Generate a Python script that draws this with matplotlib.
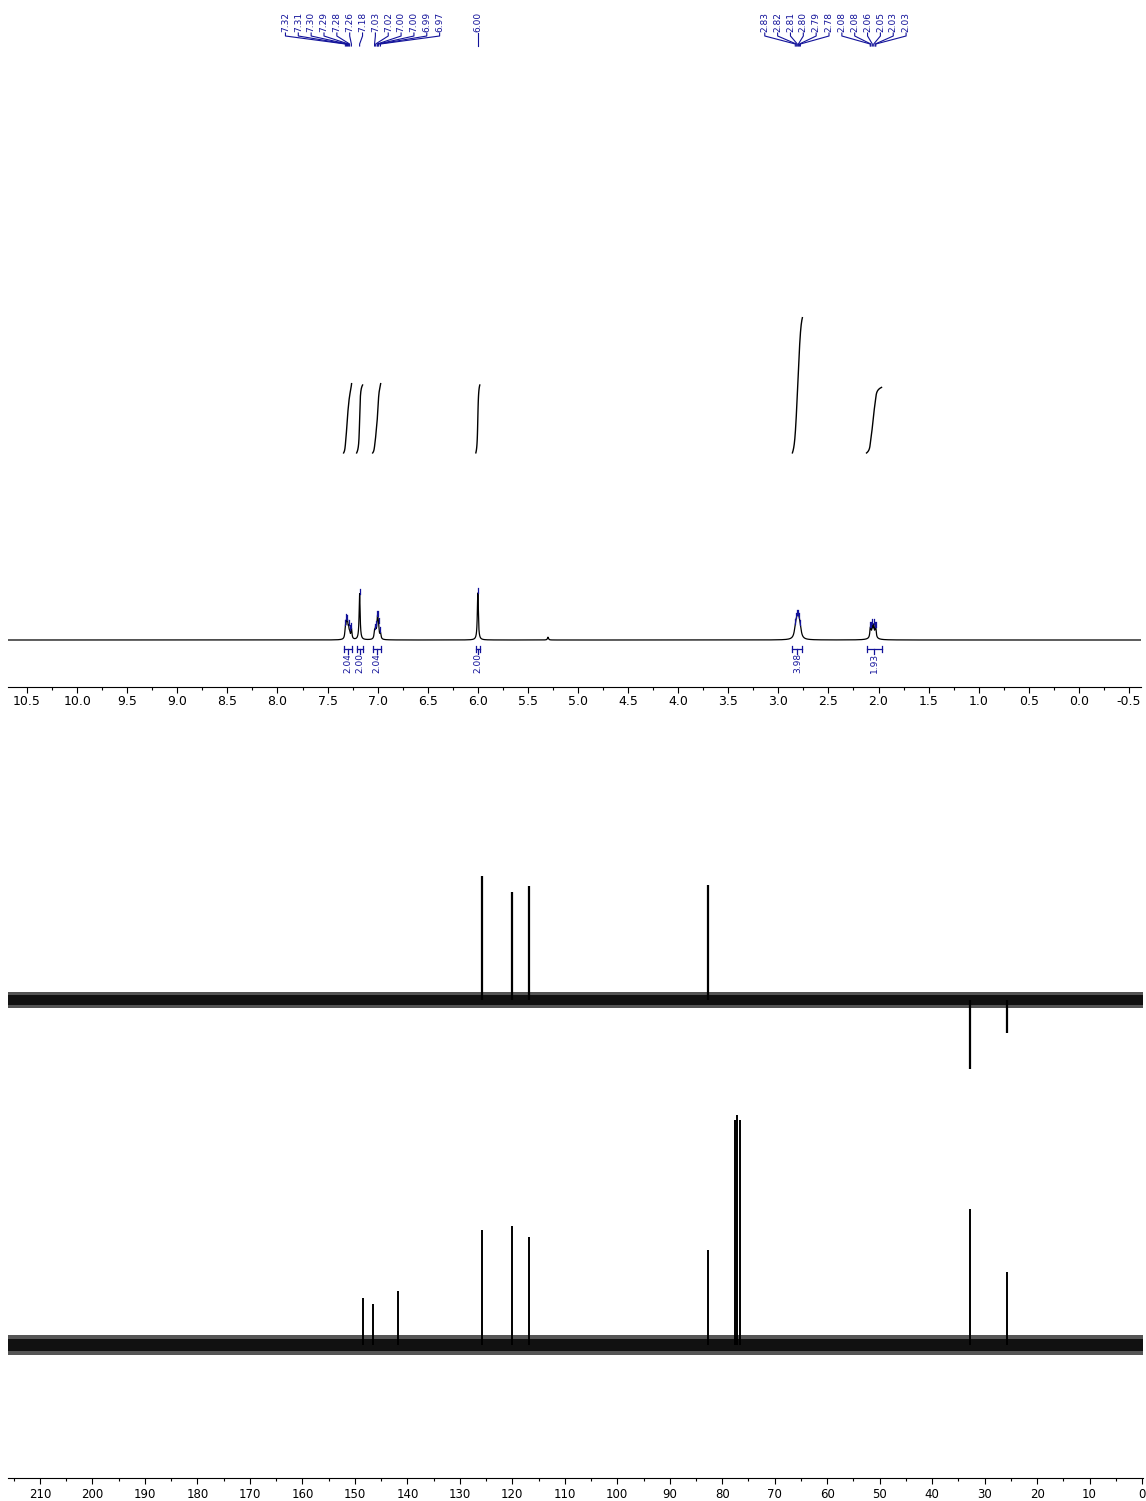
import numpy as np
import matplotlib.pyplot as plt
from matplotlib.ticker import MultipleLocator, FormatStrFormatter

plt.rcParams['font.family'] = ['DejaVu Sans']
plt.rcParams['axes.unicode_minus'] = False

BLUE = '#12129a'

# ---- 1H data: picked lines (ppm), relative height (6.00 singlet = 1), half width (ppm)
h_ppm = [7.322, 7.311, 7.301, 7.290, 7.280, 7.262, 7.180,
         7.031, 7.020, 7.004, 6.998, 6.990, 6.972, 6.000,
         2.831, 2.821, 2.811, 2.800, 2.790, 2.780,
         2.083, 2.077, 2.062, 2.048, 2.033, 2.027]
h_int = [0.22, 0.30, 0.28, 0.18, 0.10, 0.22, 0.98,
         0.15, 0.20, 0.30, 0.28, 0.18, 0.12, 1.00,
         0.12, 0.17, 0.20, 0.22, 0.17, 0.10,
         0.15, 0.12, 0.20, 0.20, 0.12, 0.15]
h_hw = [0.006] * 7 + [0.006] * 6 + [0.006] + [0.013] * 6 + [0.005] * 6
label_groups = [(0, 13), (13, 14), (14, 26)]

# unlabeled 1H signals (solvent, broad base of the 2.05 multiplet)
x_ppm = [5.30, 2.055]
x_int = [0.06, 0.10]
x_hw = [0.006, 0.03]

# integrals
int_from = [7.34, 7.21, 7.05, 6.02, 2.86, 2.12]
int_to = [7.26, 7.15, 6.97, 5.98, 2.76, 1.97]
int_val = [2.04, 2.00, 2.04, 2.00, 3.98, 1.93]

# ---- 13C DEPT-135 (ppm, relative height, largest = 1)
dept_ppm = [125.8, 120.1, 116.9, 82.7, 32.8, 25.7]
dept_int = [1.00, 0.87, 0.92, 0.93, -0.56, -0.27]

# ---- 13C (ppm, relative height, CDCl3 centre line = 1)
c_ppm = [148.5, 146.6, 141.7, 125.8, 120.1, 116.9, 82.7,
         77.6, 77.15, 76.7, 32.8, 25.7]
c_int = [0.204, 0.178, 0.235, 0.50, 0.517, 0.47, 0.413,
         0.978, 1.00, 0.978, 0.59, 0.317]

# baseline noise level (core, outer) in each trace's units
dept_noise = [0.040, 0.065]
c_noise = [0.026, 0.043]

# ---- layout (pixel boxes)
W, H = 1146, 1501
fig = plt.figure(figsize=(W / 100, H / 100), dpi=100)


def box(left, top, right, bottom):
    return [left / W, 1 - bottom / H, (right - left) / W, (bottom - top) / H]


ax1 = fig.add_axes(box(8, 0, 1141, 687))
ax2 = fig.add_axes(box(8, 850, 1143, 1090))
ax3 = fig.add_axes(box(8, 1100, 1143, 1478))

BASE1, UNIT1 = 640, 47.0


def yv(px):
    return (BASE1 - px) / UNIT1


# ---- 1H spectrum
x = np.linspace(10.69, -0.62, 30000)
spec = np.zeros_like(x)
for p, h, w in zip(h_ppm + x_ppm, h_int + x_int, h_hw + x_hw):
    spec += h / (1 + ((x - p) / w) ** 2)

ax1.plot(x, spec, color='black', lw=0.9)
ax1.set_xlim(10.69, -0.62)
ax1.set_ylim(yv(687), yv(0))

# integrals
per_h = 34 / UNIT1
for a, b, v in zip(int_from, int_to, int_val):
    m = (x <= a) & (x >= b)
    cum = np.cumsum(spec[m])
    cum = cum / cum[-1]
    ax1.plot(x[m], yv(453) + v * per_h * cum, color='black', lw=1.0)
    ax1.plot([a, b], [yv(649), yv(649)], color=BLUE, lw=0.9)
    for e in (a, b):
        ax1.plot([e, e], [yv(646), yv(652)], color=BLUE, lw=0.9)
    c = (a + b) / 2
    ax1.plot([c, c], [yv(649), yv(654)], color=BLUE, lw=0.9)
    ax1.text(c, yv(653), f'{v:.2f}', rotation=90, ha='center', va='top',
             fontsize=6.5, color=BLUE)

# peak labels
spacing = 12.85 / 100.2
for s, e in label_groups:
    peaks = h_ppm[s:e]
    centre = np.mean(peaks)
    n = len(peaks)
    for i, p in enumerate(peaks):
        lx = centre + (n - 1) / 2 * spacing - i * spacing
        ax1.text(lx, yv(32.5), f'{p:.2f}', rotation=90, ha='center',
                 va='bottom', fontsize=6.5, color=BLUE)
        ax1.plot([lx, lx, p, p], [yv(33), yv(36), yv(44), yv(46)],
                 color=BLUE, lw=0.8, clip_on=False)
        top = np.interp(p, x[::-1], spec[::-1])
        ax1.plot([p, p], [top, top + 5 / UNIT1], color=BLUE, lw=0.9)

for sp in ['top', 'left', 'right']:
    ax1.spines[sp].set_visible(False)
ax1.set_yticks([])
ax1.xaxis.set_major_locator(MultipleLocator(0.5))
ax1.xaxis.set_minor_locator(MultipleLocator(0.25))
ax1.xaxis.set_major_formatter(FormatStrFormatter('%.1f'))
ax1.tick_params(axis='x', which='major', length=4, width=0.8, pad=2,
                labelsize=9)
ax1.tick_params(axis='x', which='minor', length=2.5, width=0.8)
ax1.spines['bottom'].set_linewidth(0.8)

# ---- DEPT
xc = np.array([216.1, -0.18])
ax2.fill_between(xc, -dept_noise[1], dept_noise[1], color='#555555', lw=0)
ax2.fill_between(xc, -dept_noise[0], dept_noise[0], color='#111111', lw=0)
ax2.vlines(dept_ppm, 0, dept_int, color='black', lw=1.6)
ax2.set_xlim(216.1, -0.18)
ax2.set_ylim(-90 / 124, 150 / 124)
ax2.axis('off')

# ---- 13C
ax3.fill_between(xc, -c_noise[1], c_noise[1], color='#555555', lw=0)
ax3.fill_between(xc, -c_noise[0], c_noise[0], color='#111111', lw=0)
ax3.vlines(c_ppm, 0, c_int, color='black', lw=1.4)
ax3.set_xlim(216.1, -0.18)
ax3.set_ylim(-133 / 230, 245 / 230)
for sp in ['top', 'left', 'right']:
    ax3.spines[sp].set_visible(False)
ax3.set_yticks([])
ax3.xaxis.set_major_locator(MultipleLocator(10))
ax3.xaxis.set_minor_locator(MultipleLocator(5))
ax3.xaxis.set_major_formatter(FormatStrFormatter('%d'))
ax3.tick_params(axis='x', which='major', length=4, width=0.8, pad=3,
                labelsize=8.5)
ax3.tick_params(axis='x', which='minor', length=2.5, width=0.8)
ax3.spines['bottom'].set_linewidth(0.8)

fig.savefig('out.png', dpi=100)
